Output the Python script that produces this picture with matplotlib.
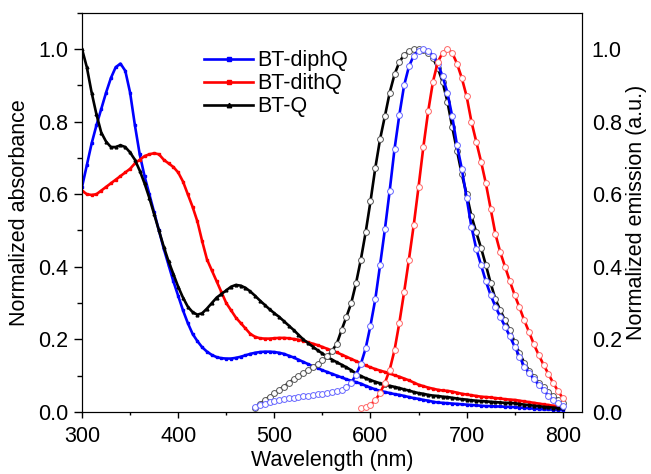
import numpy as np
import matplotlib
matplotlib.use("Agg")
import matplotlib.pyplot as plt
from matplotlib.ticker import MultipleLocator

plt.rcParams["font.family"] = ["Liberation Sans", "DejaVu Sans"]
plt.rcParams["font.size"] = 15.5

# absorbance, 300-800 nm every 5 nm
wl_abs = np.arange(300, 805, 5)
abs_diphq = [
    0.62, 0.68, 0.74, 0.79, 0.835, 0.88, 0.92, 0.95, 0.96, 0.94,
    0.88, 0.79, 0.71, 0.65, 0.60, 0.55, 0.50, 0.45, 0.405, 0.36,
    0.32, 0.28, 0.245, 0.215, 0.195, 0.178, 0.166, 0.157, 0.151, 0.148,
    0.147, 0.147, 0.149, 0.152, 0.156, 0.16, 0.163, 0.165, 0.166, 0.166,
    0.165, 0.163, 0.16, 0.155, 0.15, 0.144, 0.138, 0.132, 0.126, 0.121,
    0.115, 0.11, 0.105, 0.1, 0.095, 0.09, 0.086, 0.082, 0.078, 0.072,
    0.067, 0.062, 0.058, 0.055, 0.052, 0.049, 0.047, 0.044, 0.041, 0.038,
    0.036, 0.033, 0.031, 0.028, 0.026, 0.025, 0.024, 0.023, 0.022, 0.021,
    0.02, 0.019, 0.018, 0.017, 0.016, 0.016, 0.015, 0.015, 0.014, 0.014,
    0.013, 0.012, 0.011, 0.01, 0.009, 0.008, 0.007, 0.007, 0.006, 0.005,
    0.005,
]
abs_dithq = [
    0.61, 0.60, 0.598, 0.60, 0.61, 0.62, 0.63, 0.64, 0.65, 0.66,
    0.67, 0.685, 0.695, 0.705, 0.71, 0.713, 0.71, 0.695, 0.685, 0.675,
    0.66, 0.635, 0.60, 0.565, 0.525, 0.47, 0.42, 0.39, 0.36, 0.33,
    0.30, 0.28, 0.26, 0.245, 0.23, 0.215, 0.207, 0.203, 0.202, 0.202,
    0.203, 0.204, 0.204, 0.203, 0.201, 0.199, 0.196, 0.192, 0.188, 0.184,
    0.179, 0.174, 0.169, 0.164, 0.158, 0.152, 0.146, 0.14, 0.134, 0.128,
    0.123, 0.118, 0.114, 0.11, 0.106, 0.101, 0.097, 0.092, 0.087, 0.081,
    0.075, 0.071, 0.067, 0.064, 0.061, 0.059, 0.058, 0.056, 0.053, 0.05,
    0.048, 0.046, 0.044, 0.042, 0.041, 0.04, 0.038, 0.037, 0.035, 0.034,
    0.033, 0.031, 0.029, 0.027, 0.025, 0.023, 0.021, 0.019, 0.017, 0.016,
    0.015,
]
abs_q = [
    1.0, 0.95, 0.88, 0.82, 0.77, 0.745, 0.73, 0.73, 0.735, 0.73,
    0.715, 0.695, 0.665, 0.63, 0.59, 0.545, 0.5, 0.455, 0.415, 0.38,
    0.345, 0.315, 0.29, 0.275, 0.268, 0.272, 0.285, 0.30, 0.315, 0.325,
    0.335, 0.345, 0.35, 0.348, 0.342, 0.332, 0.32, 0.307, 0.295, 0.283,
    0.272, 0.262, 0.25, 0.238, 0.226, 0.213, 0.2, 0.19, 0.18, 0.17,
    0.161, 0.152, 0.144, 0.137, 0.13, 0.123, 0.115, 0.106, 0.099, 0.093,
    0.088, 0.083, 0.079, 0.075, 0.072, 0.069, 0.066, 0.062, 0.059, 0.055,
    0.052, 0.05, 0.047, 0.045, 0.044, 0.042, 0.041, 0.039, 0.037, 0.035,
    0.034, 0.032, 0.031, 0.03, 0.029, 0.028, 0.027, 0.026, 0.025, 0.025,
    0.024, 0.022, 0.02, 0.019, 0.017, 0.016, 0.014, 0.013, 0.012, 0.011,
    0.01,
]

# emission
wl_em = np.arange(480, 805, 5)
em_diphq = [
    0.014, 0.019, 0.023, 0.027, 0.030, 0.033, 0.035, 0.037, 0.039, 0.041,
    0.043, 0.045, 0.046, 0.048, 0.050, 0.052, 0.054, 0.057, 0.061, 0.068,
    0.08, 0.103, 0.132, 0.175, 0.238, 0.31, 0.405, 0.503, 0.61, 0.724,
    0.818, 0.90, 0.952, 0.982, 0.996, 1.0, 0.996, 0.982, 0.96, 0.925,
    0.88, 0.815, 0.735, 0.67, 0.59, 0.51, 0.45, 0.405, 0.36, 0.322,
    0.29, 0.262, 0.235, 0.208, 0.18, 0.152, 0.125, 0.108, 0.09, 0.075,
    0.061, 0.045, 0.033, 0.024, 0.017,
]
em_q = [
    0.012, 0.022, 0.032, 0.042, 0.051, 0.061, 0.07, 0.08, 0.09, 0.099,
    0.107, 0.115, 0.123, 0.132, 0.142, 0.153, 0.168, 0.188, 0.226, 0.262,
    0.30, 0.355, 0.42, 0.495, 0.58, 0.672, 0.752, 0.815, 0.88, 0.93,
    0.964, 0.984, 0.994, 0.999, 1.0, 0.998, 0.99, 0.975, 0.948, 0.91,
    0.855, 0.786, 0.72, 0.655, 0.6, 0.54, 0.495, 0.452, 0.405, 0.355,
    0.31, 0.28, 0.252, 0.225, 0.192, 0.162, 0.135, 0.114, 0.097, 0.081,
    0.068, 0.055, 0.043, 0.034, 0.025,
]
wl_em_red = np.arange(590, 805, 5)
em_dithq = [
    0.01, 0.013, 0.02, 0.032, 0.052, 0.08, 0.116, 0.17, 0.245, 0.33,
    0.42, 0.515, 0.62, 0.73, 0.828, 0.91, 0.964, 0.99, 1.0, 0.99,
    0.96, 0.92, 0.87, 0.8, 0.745, 0.69, 0.63, 0.56, 0.49, 0.44,
    0.4, 0.36, 0.322, 0.288, 0.252, 0.22, 0.186, 0.157, 0.13, 0.105,
    0.08, 0.058, 0.038,
]

fig = plt.figure(figsize=(6.51, 4.74), dpi=100)
ax = fig.add_axes([0.126, 0.131, 0.768, 0.842])
ax2 = ax.twinx()

ax.plot(wl_abs, abs_diphq, color="blue", lw=1.9, marker="s", ms=2, label="BT-diphQ")
ax.plot(wl_abs, abs_dithq, color="red", lw=1.9, marker="s", ms=2, label="BT-dithQ")
ax.plot(wl_abs, abs_q, color="black", lw=1.9, marker="^", ms=2, label="BT-Q")

em_style = dict(lw=1.9, marker="o", ms=4.2, mfc="white", mew=0.7)
ax2.plot(wl_em, em_q, color="black", mec="#555555", **em_style)
ax2.plot(wl_em, em_diphq, color="blue", mec="#6666ff", **em_style)
ax2.plot(wl_em_red, em_dithq, color="red", mec="#ff6666", **em_style)

ax.set_xlim(300, 820)
ax.set_ylim(0, 1.1)
ax2.set_ylim(0, 1.1)

ax.xaxis.set_major_locator(MultipleLocator(100))
ax.xaxis.set_minor_locator(MultipleLocator(50))
ax.yaxis.set_major_locator(MultipleLocator(0.2))
ax.yaxis.set_minor_locator(MultipleLocator(0.1))
ax.yaxis.set_major_formatter(plt.FormatStrFormatter("%.1f"))
ax2.yaxis.set_major_locator(MultipleLocator(0.2))
ax2.yaxis.set_major_formatter(plt.FormatStrFormatter("%.1f"))

ax.tick_params(axis="both", which="major", direction="out", length=6, width=1, pad=4)
ax.tick_params(axis="both", which="minor", direction="out", length=3.5, width=1)
ax.tick_params(axis="x", which="major", length=4, pad=6)
ax.tick_params(axis="x", which="minor", length=2.5)
ax.tick_params(top=False, right=False)
ax2.tick_params(axis="y", length=0, pad=7)

ax.set_xlabel("Wavelength (nm)", labelpad=2)
ax.set_ylabel("Normalized absorbance", labelpad=6)
ax2.set_ylabel("Normalized emission (a.u.)", labelpad=3)

ax.legend(loc="upper left", bbox_to_anchor=(0.205, 0.955), frameon=False,
          handlelength=2.3, handletextpad=0.2, labelspacing=0.1, markerscale=1.6)

fig.savefig("out.png", dpi=100)
